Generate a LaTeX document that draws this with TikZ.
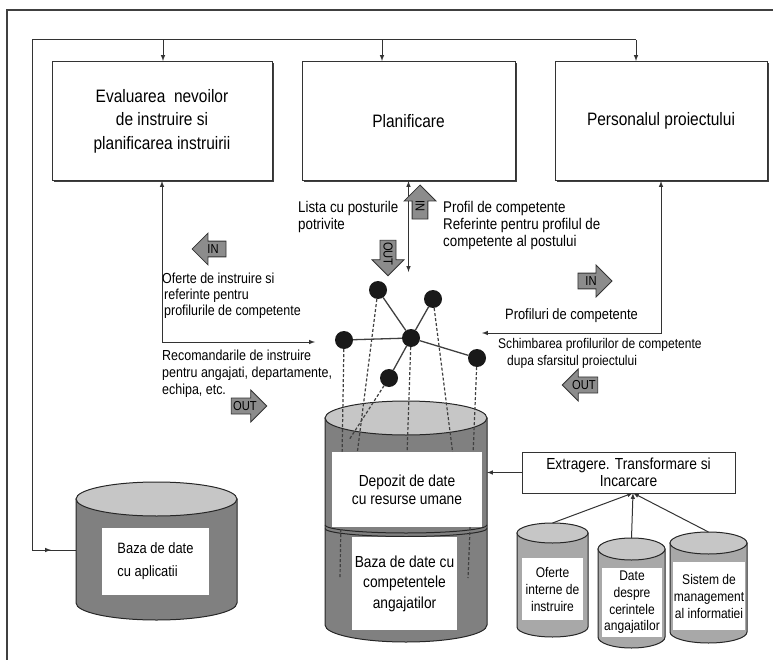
\documentclass[tikz,border=0pt]{standalone}
\usepackage{fontspec}
\setmainfont[FakeStretch=0.86]{Liberation Sans}
\usepackage{tikz}
\usetikzlibrary{positioning,arrows,calc,shapes.arrows,shadows}

\definecolor{drumbody}{HTML}{808080}
\definecolor{drumlight}{HTML}{A8A8A8}
\definecolor{drumtop}{HTML}{C6C6C6}
\definecolor{arrowgray}{HTML}{8C8C8C}

% cylinder: name, centre x, top y, bottom y, x radius, y radius, body colour
\newcommand{\drum}[7]{%
\draw[drumline,fill=#7] (#2-#5,#3) -- (#2-#5,#4) arc[start angle=180,end angle=360,x radius=#5pt,y radius=#6pt] -- (#2+#5,#3) -- cycle;
\draw[drumline,fill=drumtop] (#2,#3) ellipse [x radius=#5pt,y radius=#6pt];
\coordinate (#1-top) at (#2,#3-#6);
}

\begin{document}
\begin{tikzpicture}[x=1pt,y=-1pt,
  procbox/.style={draw=black!80,line width=1pt,fill=white,minimum height=119pt,align=center,
    font=\fontsize{18}{23.5}\selectfont,
    drop shadow={shadow xshift=1.6pt,shadow yshift=-1.6pt,fill=black!75,opacity=1}},
  netnode/.style={circle,fill=black!90,minimum size=18pt,inner sep=0pt},
  netlink/.style={draw=black!75,line width=1.3pt},
  dropline/.style={densely dashed,line width=1.2pt,black!75},
  drumline/.style={draw=black!85,line width=1pt},
  conn/.style={draw=black!80,line width=1pt},
  inout/.style={single arrow,draw=black!80,line width=0.8pt,fill=arrowgray,font=\fontsize{13}{13}\selectfont,
    inner xsep=1.5pt,inner ysep=3pt,single arrow head extend=8pt,minimum height=34pt},
  lbl/.style={align=left,font=\fontsize{14.5}{16.8}\selectfont,inner sep=0pt},
  dblabel/.style={fill=white,align=center,inner sep=0pt,font=\fontsize{16}{18}\selectfont}]
\useasboundingbox (0,0) rectangle (773,660);

% frame
\draw[line width=1.5pt,black!75] (773,10) -- (7,10) -- (7,660);

% process boxes
\node[procbox,minimum width=220pt] (evalBox) at (162,121) {Evaluarea\ \ nevoilor\\de instruire si\\planificarea instruirii};
\node[procbox,minimum width=213pt] (planBox) at (408.5,121) {Planificare};
\node[procbox,minimum width=212pt] (persBox) at (661,121) {Personalul proiectului};

% feedback bus
\coordinate (busL) at (32,40);
\coordinate (busR) at (636,40);
\coordinate (appIn) at (76,550);
\draw[conn] (busR) -- (busL) -- (busL |- appIn) -- (appIn);
\draw[conn,-latex] (busL |- appIn) -- ++(19,0);
\foreach \x/\b in {163/evalBox,382/planBox,636/persBox}
  \draw[conn,-latex] (\x,40) -- (\b.north -| \x,40);

% network
\node[netnode] (sat1) at (378,290) {};
\node[netnode] (sat2) at (433,299) {};
\node[netnode] (sat3) at (344,340) {};
\node[netnode] (hub) at (411,338) {};
\node[netnode] (sat4) at (477,358) {};
\node[netnode] (sat5) at (389,378) {};
\foreach \s in {sat1,sat2,sat3,sat4,sat5}
  \draw[netlink] (hub) -- (\s);

% links to the boxes
\coordinate (netW) at (315,342);
\coordinate (planTip) at (408.5,272);
\coordinate (netE) at (482,333);
\draw[conn,latex-latex] (evalBox.south) |- (netW);
\draw[conn,latex-latex] (planBox.south) -- (planTip);
\draw[conn,latex-latex] (persBox.south) |- (netE);

% main store
\drum{mainDb}{406}{418}{625}{81}{17}{drumbody}
\draw[drumline] (325,525) arc[start angle=180,end angle=360,x radius=81pt,y radius=8pt];
\draw[drumline] (325,528.5) arc[start angle=180,end angle=360,x radius=81pt,y radius=8pt];
\coordinate (d1) at (357,455);
\coordinate (d2) at (453,455);
\coordinate (d3) at (340,578);
\coordinate (d4) at (407,455);
\coordinate (d5) at (468,578);
\coordinate (d6) at (349,440);
\draw[dropline] (sat1) -- (d1);
\draw[dropline] (sat2) -- (d2);
\draw[dropline] (sat3) -- (d3);
\draw[dropline] (hub) -- (d4);
\draw[dropline] (sat4) -- (d5);
\draw[dropline] (sat5) -- (d6);
\node[dblabel,minimum width=150pt,minimum height=75pt] (depozit) at (407,489.5) {Depozit de date\\cu resurse umane};
\node[dblabel,minimum width=105pt,minimum height=93pt,font=\fontsize{16}{20.5}\selectfont] (bazaComp) at (404.5,583.5) {Baza de date cu\\competentele\\angajatilor};

% application store
\drum{appDb}{156.5}{499}{603}{80.5}{17}{drumbody}
\node[dblabel,minimum width=107pt,minimum height=67pt,align=left,font=\fontsize{15}{23}\selectfont] (appLbl) at (155.5,561.5) {Baza de date\\cu aplicatii};

% sources
\drum{cylA}{552.5}{533}{627}{35.5}{10}{drumlight}
\drum{cylB}{631.5}{549}{637}{33.5}{11}{drumlight}
\drum{cylC}{708.5}{543}{632}{38.5}{11}{drumlight}
\node[dblabel,minimum width=61pt,minimum height=62pt,font=\fontsize{14}{17}\selectfont] (oferteLbl) at (552.5,589) {Oferte\\interne de\\instruire};
\node[dblabel,minimum width=60pt,minimum height=69pt,font=\fontsize{14}{16.7}\selectfont] (dateLbl) at (632,602.5) {Date\\despre\\cerintele\\angajatilor};
\node[dblabel,minimum width=72pt,minimum height=68pt,font=\fontsize{14}{17}\selectfont] (sistemLbl) at (709,596) {Sistem de\\management\\al informatiei};

% ETL
\node[draw=black!80,line width=1pt,fill=white,minimum width=213pt,minimum height=41pt,align=center,
  font=\fontsize{16}{17}\selectfont] (etl) at (628.5,472.5) {Extragere. Transformare si\\Incarcare};
\coordinate (mainE) at (487,472.5);
\coordinate (etlIn) at (633,493);
\draw[conn,-latex] (etl.west) -- (mainE);
\foreach \c in {cylA,cylB,cylC}
  \draw[conn,-latex] (\c-top) -- (etlIn);

% IN / OUT arrows
\node[inout,shape border rotate=180] (inEval) at (213,249) {IN};
\node[inout,rotate=-90,shape border rotate=180] (inPlan) at (420,206) {IN};
\node[inout,rotate=-90] (outPlan) at (388,254) {OUT};
\node[inout] (inPers) at (591,281) {IN};
\node[inout,shape border rotate=180] (outPers) at (584,385) {OUT};
\node[inout] (outEval) at (245,406) {OUT};

% texts
\node[lbl,anchor=north west,font=\fontsize{15.5}{16.8}\selectfont] (listaTxt) at (298,201) {Lista cu posturile\\potrivite};
\node[lbl,anchor=north west,font=\fontsize{15.5}{16.8}\selectfont] (profilTxt) at (443,201) {Profil de competente\\Referinte pentru profilul de\\competente al postului};
\node[lbl,anchor=north west,font=\fontsize{14.5}{15.8}\selectfont] (oferteTxt) at (162,273) {Oferte de instruire si\\\hspace*{2pt}referinte pentru\\\hspace*{2pt}profilurile de competente};
\node[lbl,anchor=north west] (recomTxt) at (162,350) {Recomandarile de instruire\\pentru angajati, departamente,\\echipa, etc.};
\node[lbl,anchor=north east,font=\fontsize{15}{16.8}\selectfont] (profiluriTxt) at (638,308) {Profiluri de competente};
\node[lbl,anchor=north west,font=\fontsize{14}{16.8}\selectfont] (schimbTxt) at (498,338) {Schimbarea profilurilor de competente\\\hspace*{9pt}dupa sfarsitul proiectului};
\end{tikzpicture}
\end{document}
